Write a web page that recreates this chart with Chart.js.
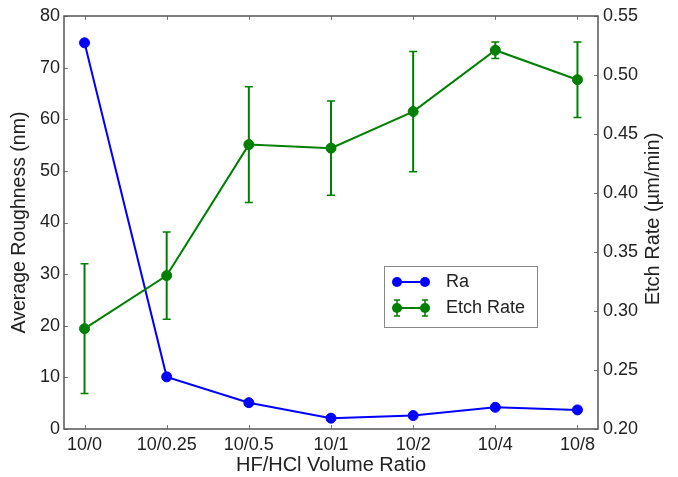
<!DOCTYPE html>
<html>
<head>
<meta charset="utf-8">
<script src="https://cdn.jsdelivr.net/npm/chart.js@4.4.0/dist/chart.umd.min.js"></script>
<style>
  html, body { margin: 0; padding: 0; background: #fff; }
  #wrap { width: 678px; height: 477px; }
</style>
</head>
<body>
<div id="wrap"><canvas id="chart" width="678" height="477"></canvas></div>
<script>
// data
const ratios = ['10/0', '10/0.25', '10/0.5', '10/1', '10/2', '10/4', '10/8'];
const roughness = [74.8, 10.1, 5.1, 2.1, 2.6, 4.2, 3.7];      // Ra (nm), left axis
const etchRate = [0.285, 0.330, 0.441, 0.438, 0.469, 0.521, 0.496]; // um/min, right axis
const etchErr = [0.055, 0.037, 0.049, 0.040, 0.051, 0.007, 0.032];

const BLUE = '#0000ff';
const GREEN = '#008000';
const FONT = 'Liberation Sans, Arial, sans-serif';
const TEXT = '#222';

// matplotlib-like frame: box, inward ticks, error bars, legend, right title
const frame = {
  id: 'frame',
  beforeDatasetsDraw(chart) {
    const ctx = chart.ctx;
    const x = chart.scales.x, y2 = chart.scales.y2;
    ctx.save();
    ctx.strokeStyle = GREEN;
    etchRate.forEach((v, i) => {
      const px = x.getPixelForValue(i);
      const top = y2.getPixelForValue(v + etchErr[i]);
      const bot = y2.getPixelForValue(v - etchErr[i]);
      ctx.lineWidth = 2;
      ctx.beginPath();
      ctx.moveTo(px, top); ctx.lineTo(px, bot);
      ctx.stroke();
      ctx.lineWidth = 1.5;
      ctx.beginPath();
      ctx.moveTo(px - 4, top); ctx.lineTo(px + 4, top);
      ctx.moveTo(px - 4, bot); ctx.lineTo(px + 4, bot);
      ctx.stroke();
    });
    ctx.restore();
  },
  afterDraw(chart) {
    const ctx = chart.ctx;
    const a = chart.chartArea;
    const {x, y, y2} = chart.scales;
    ctx.save();

    // inward ticks
    ctx.strokeStyle = '#777';
    ctx.lineWidth = 1;
    ctx.beginPath();
    x.ticks.forEach(t => {
      const px = Math.round(x.getPixelForValue(t.value)) + 0.5;
      ctx.moveTo(px, a.bottom); ctx.lineTo(px, a.bottom - 4);
      ctx.moveTo(px, a.top); ctx.lineTo(px, a.top + 4);
    });
    y.ticks.forEach(t => {
      const py = Math.round(y.getPixelForValue(t.value)) + 0.5;
      ctx.moveTo(a.left, py); ctx.lineTo(a.left + 4, py);
    });
    y2.ticks.forEach(t => {
      const py = Math.round(y2.getPixelForValue(t.value)) + 0.5;
      ctx.moveTo(a.right, py); ctx.lineTo(a.right - 4, py);
    });
    ctx.stroke();

    // box
    ctx.strokeStyle = '#555';
    ctx.lineWidth = 1.5;
    ctx.strokeRect(a.left, a.top, a.right - a.left, a.bottom - a.top);

    // right axis title, reads bottom to top
    ctx.fillStyle = TEXT;
    ctx.font = '20px ' + FONT;
    ctx.textAlign = 'center';
    ctx.textBaseline = 'middle';
    ctx.save();
    ctx.translate(653, 219);
    ctx.rotate(-Math.PI / 2);
    ctx.fillText('Etch Rate (\u00b5m/min)', 0, 0);
    ctx.restore();

    // legend
    ctx.font = '18px ' + FONT;
    const lx = 384, ly = 266, lw = 153, lh = 61;
    ctx.fillStyle = '#fff';
    ctx.fillRect(lx, ly, lw, lh);
    ctx.strokeStyle = '#888';
    ctx.lineWidth = 1;
    ctx.strokeRect(lx + 0.5, ly + 0.5, lw, lh);
    const rows = [
      {label: 'Ra', color: BLUE, yy: ly + 16, err: false},
      {label: 'Etch Rate', color: GREEN, yy: ly + 42, err: true}
    ];
    rows.forEach(r => {
      ctx.strokeStyle = r.color;
      ctx.fillStyle = r.color;
      ctx.lineWidth = 2;
      ctx.beginPath();
      ctx.moveTo(lx + 13, r.yy); ctx.lineTo(lx + 41, r.yy);
      ctx.stroke();
      [lx + 13, lx + 41].forEach(cx => {
        if (r.err) {
          ctx.lineWidth = 1.5;
          ctx.beginPath();
          ctx.moveTo(cx, r.yy - 8); ctx.lineTo(cx, r.yy + 8);
          ctx.moveTo(cx - 3, r.yy - 8); ctx.lineTo(cx + 3, r.yy - 8);
          ctx.moveTo(cx - 3, r.yy + 8); ctx.lineTo(cx + 3, r.yy + 8);
          ctx.stroke();
        }
        ctx.beginPath();
        ctx.arc(cx, r.yy, 5, 0, Math.PI * 2);
        ctx.fill();
      });
      ctx.fillStyle = TEXT;
      ctx.textAlign = 'left';
      ctx.fillText(r.label, lx + 62, r.yy);
    });

    ctx.restore();
  }
};

const ctx = document.getElementById('chart');

new Chart(ctx, {
  type: 'line',
  data: {
    datasets: [
      {
        label: 'Etch Rate',
        data: etchRate.map((v, i) => ({x: i, y: v})),
        yAxisID: 'y2',
        borderColor: GREEN,
        backgroundColor: GREEN,
        borderWidth: 2,
        pointRadius: 5,
        pointBorderWidth: 1,
        order: 0
      },
      {
        label: 'Ra',
        data: roughness.map((v, i) => ({x: i, y: v})),
        yAxisID: 'y',
        borderColor: BLUE,
        backgroundColor: BLUE,
        borderWidth: 2,
        pointRadius: 5,
        pointBorderWidth: 1,
        order: 1
      }
    ]
  },
  plugins: [frame],
  options: {
    responsive: false,
    animation: false,
    devicePixelRatio: 1,
    layout: {padding: {top: 16, left: 0, right: 0, bottom: 0}},
    plugins: {
      legend: {display: false},
      tooltip: {enabled: false}
    },
    scales: {
      x: {
        type: 'linear',
        min: -0.25,
        max: 6.25,
        afterBuildTicks: s => { s.ticks = ratios.map((r, i) => ({value: i})); },
        afterFit: s => { s.height = 48; },
        grid: {display: false, drawTicks: false},
        border: {display: false},
        ticks: {
          padding: 5,
          color: TEXT,
          font: {family: FONT, size: 18},
          maxRotation: 0,
          callback: v => ratios[v]
        },
        title: {
          display: true,
          text: 'HF/HCl Volume Ratio',
          color: TEXT,
          font: {family: FONT, size: 20},
          padding: {top: 0, bottom: 0}
        }
      },
      y: {
        position: 'left',
        min: 0,
        max: 80,
        afterFit: s => { s.width = 64; },
        grid: {display: false, drawTicks: false},
        border: {display: false},
        ticks: {
          stepSize: 10,
          padding: 4,
          color: TEXT,
          font: {family: FONT, size: 18}
        },
        title: {
          display: true,
          text: 'Average Roughness (nm)',
          color: TEXT,
          font: {family: FONT, size: 19.5},
          padding: {top: 8, bottom: 0}
        }
      },
      y2: {
        position: 'right',
        min: 0.2,
        max: 0.55,
        afterFit: s => { s.width = 80; },
        grid: {display: false, drawTicks: false},
        border: {display: false},
        ticks: {
          stepSize: 0.05,
          padding: 5,
          color: TEXT,
          font: {family: FONT, size: 18},
          callback: v => v.toFixed(2)
        }
      }
    }
  }
});
</script>
</body>
</html>
